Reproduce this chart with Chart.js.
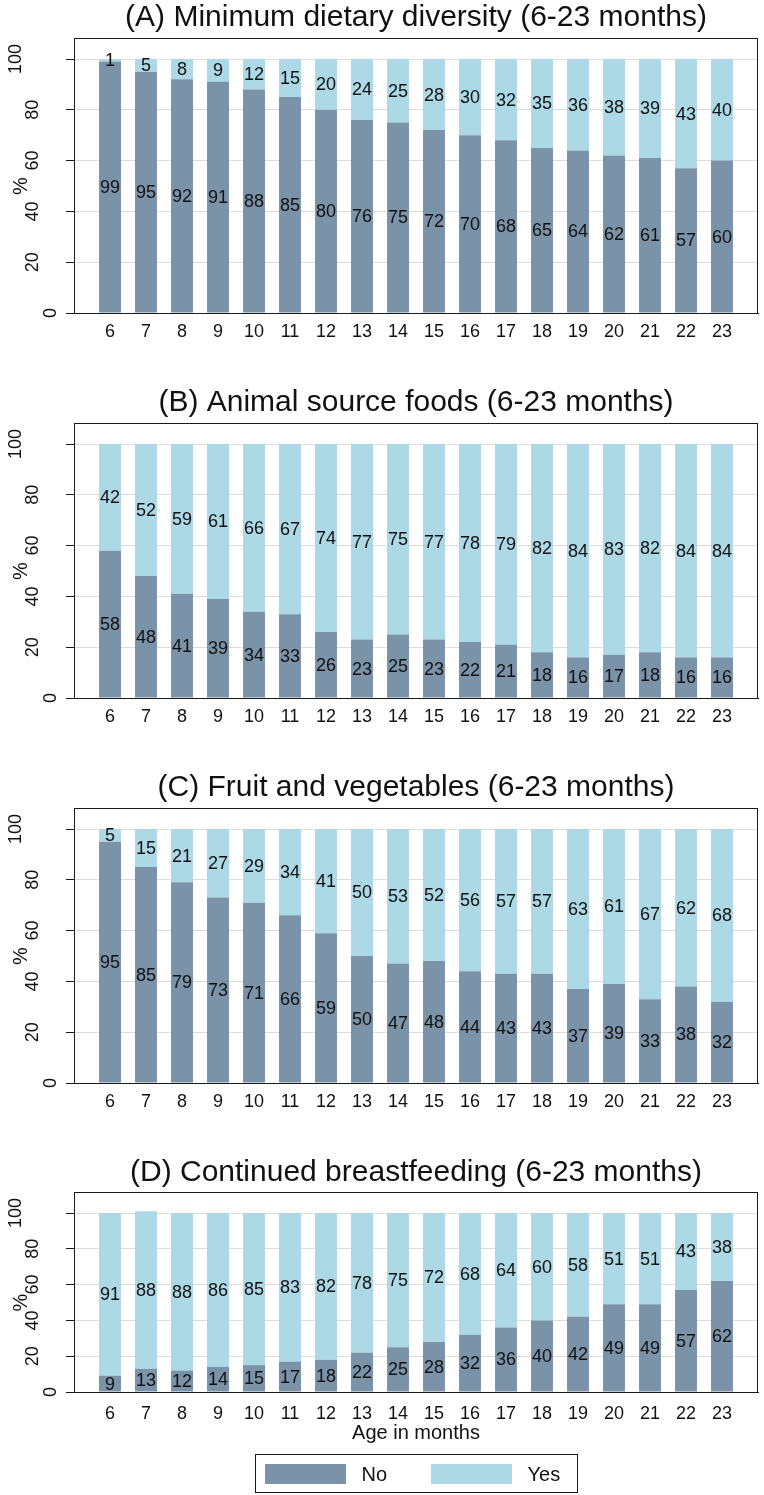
<!DOCTYPE html>
<html>
<head>
<meta charset="utf-8">
<title>Infant and young child feeding indicators by age</title>
<script src="https://cdn.jsdelivr.net/npm/chart.js@4.4.1/dist/chart.umd.min.js"></script>
<style>
  html, body { margin: 0; padding: 0; background: #fff; width: 764px; height: 1495px; overflow: hidden; }
  canvas { position: absolute; left: 0; }
  #legend {
    position: absolute; left: 255px; top: 1454px; width: 323px; height: 39px;
    box-sizing: border-box; border: 1px solid #1a1a1a;
    display: flex; align-items: center; padding-left: 9px;
    font: 20px "Liberation Sans", Arial, Helvetica, sans-serif; color: #111;
  }
  #legend .item { display: flex; align-items: center; }
  #legend .item + .item { margin-left: 44px; }
  #legend .sw { width: 81px; height: 20px; flex: none; }
  #legend .tx { margin-left: 15.5px; line-height: 20px; }
</style>
</head>
<body>
<canvas id="panelA" width="832" height="385" style="top:0px"></canvas>
<canvas id="panelB" width="832" height="385" style="top:385px"></canvas>
<canvas id="panelC" width="832" height="385" style="top:770px"></canvas>
<canvas id="panelD" width="832" height="300" style="top:1155px"></canvas>
<div id="legend"></div>

<script>
// Age groups on the x axis
const ages = [6, 7, 8, 9, 10, 11, 12, 13, 14, 15, 16, 17, 18, 19, 20, 21, 22, 23];

// y-axis tick values (percent)
const yTicks = [0, 20, 40, 60, 80, 100];

// Series names
const seriesNames = ['No', 'Yes'];

// (A) Minimum dietary diversity
const dietNo  = [99, 95, 92, 91, 88, 85, 80, 76, 75, 72, 70, 68, 65, 64, 62, 61, 57, 60];
const dietYes = [1, 5, 8, 9, 12, 15, 20, 24, 25, 28, 30, 32, 35, 36, 38, 39, 43, 40];

// (B) Animal source foods
const animalNo  = [58, 48, 41, 39, 34, 33, 26, 23, 25, 23, 22, 21, 18, 16, 17, 18, 16, 16];
const animalYes = [42, 52, 59, 61, 66, 67, 74, 77, 75, 77, 78, 79, 82, 84, 83, 82, 84, 84];

// (C) Fruit and vegetables
const fruitNo  = [95, 85, 79, 73, 71, 66, 59, 50, 47, 48, 44, 43, 43, 37, 39, 33, 38, 32];
const fruitYes = [5, 15, 21, 27, 29, 34, 41, 50, 53, 52, 56, 57, 57, 63, 61, 67, 62, 68];

// (D) Continued breastfeeding
const bfNo  = [9, 13, 12, 14, 15, 17, 18, 22, 25, 28, 32, 36, 40, 42, 49, 49, 57, 62];
const bfYes = [91, 88, 88, 86, 85, 83, 82, 78, 75, 72, 68, 64, 60, 58, 51, 51, 43, 38];

const panelTitles = [
  '(A) Minimum dietary diversity (6-23 months)',
  '(B) Animal source foods (6-23 months)',
  '(C) Fruit and vegetables (6-23 months)',
  '(D) Continued breastfeeding (6-23 months)'
];
const xTitle = 'Age in months';
const yTitle = '%';

const FONT = '"Liberation Sans", Arial, Helvetica, sans-serif';
const INK = '#111111';
const LINE = '#1a1a1a';
const COLOR_NO = '#7b93a9';
const COLOR_YES = '#add8e6';
const PLOT_LEFT = 74;

Chart.defaults.font.family = FONT;
Chart.defaults.color = INK;

// Plot frame: closes the box above the 100 line and on the right
const framePlugin = {
  id: 'frame',
  afterDatasetsDraw(chart) {
    const { ctx, chartArea: a } = chart;
    const l = Math.round(a.left) + 0.5;
    const r = Math.round(a.right) - 0.5;
    const t = Math.round(a.top - 21) + 0.5;
    const b = Math.round(a.bottom) + 0.5;
    ctx.save();
    ctx.strokeStyle = LINE;
    ctx.lineWidth = 1;
    ctx.strokeRect(l, t, r - l, b - t);
    ctx.restore();
  }
};

// Percentage written in the middle of every bar segment
const valueLabelPlugin = {
  id: 'valueLabels',
  afterDatasetsDraw(chart) {
    const ctx = chart.ctx;
    ctx.save();
    ctx.font = '18px ' + FONT;
    ctx.fillStyle = INK;
    ctx.textAlign = 'center';
    ctx.textBaseline = 'middle';
    chart.data.datasets.forEach((ds, i) => {
      chart.getDatasetMeta(i).data.forEach((bar, j) => {
        const { x, y, base } = bar.getProps(['x', 'y', 'base'], true);
        ctx.fillText(String(ds.data[j]), x, (y + base) / 2 + 1);
      });
    });
    ctx.restore();
  }
};

// Vertical y tick labels and the y-axis title, placed from the y scale's positions
const yAxisTextPlugin = {
  id: 'yAxisText',
  afterDraw(chart) {
    const s = chart.scales.y;
    const ctx = chart.ctx;
    ctx.save();
    ctx.fillStyle = INK;
    ctx.textAlign = 'center';
    ctx.textBaseline = 'middle';
    ctx.font = '18px ' + FONT;
    s.ticks.forEach(t => {
      const label = String(t.value);
      const py = s.getPixelForValue(t.value);
      const cx = s.right - 5 - 17.75 * label.length;
      ctx.save();
      ctx.translate(cx, py);
      ctx.rotate(-Math.PI / 2);
      ctx.fillText(label, 0, 0);
      ctx.restore();
    });
    ctx.font = '20px ' + FONT;
    ctx.translate(s.right - 53, (s.top + s.bottom) / 2);
    ctx.rotate(-Math.PI / 2);
    ctx.fillText(yTitle, 0, 0);
    ctx.restore();
  }
};

function makePanel(canvasId, title, noVals, yesVals, withAxisTitle) {
  const canvas = document.getElementById(canvasId);
  const xAxisHeight = withAxisTitle ? canvas.height - 237 : 72;
  return new Chart(canvas, {
    type: 'bar',
    data: {
      labels: ages,
      datasets: [
        { label: seriesNames[0], data: noVals, backgroundColor: COLOR_NO, borderWidth: 0 },
        { label: seriesNames[1], data: yesVals, backgroundColor: COLOR_YES, borderWidth: 0 }
      ]
    },
    options: {
      responsive: false,
      animation: false,
      devicePixelRatio: 1,
      // the left padding keeps the panel title centred over the plot region
      layout: { padding: { left: PLOT_LEFT, right: 74, top: 0, bottom: 0 } },
      datasets: { bar: { barPercentage: 0.61, categoryPercentage: 1, clip: false } },
      plugins: {
        legend: { display: false },
        tooltip: { enabled: false },
        title: {
          display: true,
          text: title,
          color: INK,
          font: { size: 30, weight: 'normal' },
          padding: { top: 0, bottom: withAxisTitle ? 22 : 23 }
        }
      },
      scales: {
        x: {
          type: 'linear',
          stacked: true,
          min: 5,
          max: 24,
          offset: false,
          grid: { display: false, drawTicks: false, offset: false },
          border: { display: true, color: LINE },
          ticks: {
            stepSize: 1,
            autoSkip: false,
            maxRotation: 0,
            padding: withAxisTitle ? 11 : 8,
            color: INK,
            font: { size: 18 },
            callback: v => (ages.includes(v) ? String(v) : '')
          },
          title: {
            display: withAxisTitle,
            text: xTitle,
            color: INK,
            font: { size: 20 },
            padding: { top: 0, bottom: 10 }
          },
          afterFit: s => { s.height = xAxisHeight; }
        },
        y: {
          stacked: true,
          min: 0,
          max: 100,
          grid: { color: '#dcdcdc', tickColor: LINE, tickLength: 8, drawTicks: true },
          border: { display: true, color: LINE },
          ticks: { display: false },
          afterBuildTicks: s => { s.ticks = yTicks.map(v => ({ value: v })); },
          afterFit: s => { s.width = 0; }
        }
      }
    },
    plugins: [framePlugin, valueLabelPlugin, yAxisTextPlugin]
  });
}

makePanel('panelA', panelTitles[0], dietNo, dietYes, false);
makePanel('panelB', panelTitles[1], animalNo, animalYes, false);
makePanel('panelC', panelTitles[2], fruitNo, fruitYes, false);
const lastChart = makePanel('panelD', panelTitles[3], bfNo, bfYes, true);

// Shared legend, built from the chart's own legend items
(function buildLegend(chart) {
  const box = document.getElementById('legend');
  const items = Chart.defaults.plugins.legend.labels.generateLabels(chart);
  items.forEach(it => {
    const item = document.createElement('div');
    item.className = 'item';
    const sw = document.createElement('span');
    sw.className = 'sw';
    sw.style.background = it.fillStyle;
    const tx = document.createElement('span');
    tx.className = 'tx';
    tx.textContent = it.text;
    item.appendChild(sw);
    item.appendChild(tx);
    box.appendChild(item);
  });
})(lastChart);
</script>
</body>
</html>
